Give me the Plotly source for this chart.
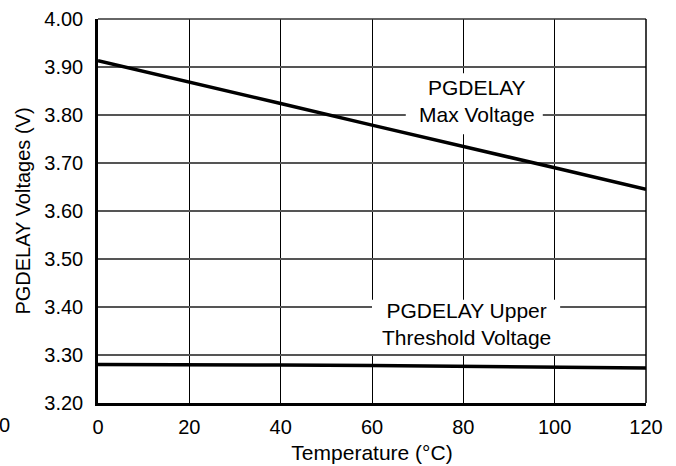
import plotly.graph_objects as go

temps = [0, 20, 40, 60, 80, 100, 120]
max_voltage = [3.913, 3.869, 3.824, 3.779, 3.735, 3.690, 3.645]
upper_threshold = [3.280, 3.280, 3.279, 3.278, 3.276, 3.274, 3.273]
x_ticks = [0, 20, 40, 60, 80, 100, 120]
y_ticks = [3.20, 3.30, 3.40, 3.50, 3.60, 3.70, 3.80, 3.90, 4.00]
y_tick_labels = ["3.20", "3.30", "3.40", "3.50", "3.60", "3.70", "3.80", "3.90", "4.00"]

FONT = "Liberation Sans, Arial, sans-serif"

fig = go.Figure()
fig.add_trace(go.Scatter(x=temps, y=max_voltage, mode="lines",
                         line=dict(color="black", width=3.5), showlegend=False))
fig.add_trace(go.Scatter(x=temps, y=upper_threshold, mode="lines",
                         line=dict(color="black", width=3.5), showlegend=False))

fig.update_layout(
    width=676, height=466,
    margin=dict(l=98, r=30, t=19, b=63, autoexpand=False),
    paper_bgcolor="white", plot_bgcolor="white",
    font=dict(family=FONT, color="black", size=20),
    xaxis=dict(range=[0, 120], tickvals=x_ticks, showgrid=True, gridcolor="black",
               gridwidth=1, showline=True, linecolor="black", linewidth=2.5,
               zeroline=False, ticks="", ticklabelstandoff=4, automargin=False,
               tickfont=dict(size=20),
               title=dict(text="Temperature (°C)", font=dict(size=21), standoff=9)),
    yaxis=dict(range=[3.20, 4.00], tickvals=y_ticks, ticktext=y_tick_labels,
               showgrid=True, gridcolor="#555555", gridwidth=1.5,
               showline=True, linecolor="black", linewidth=2.5,
               zeroline=False, ticks="", ticklabelstandoff=8, automargin=False,
               tickfont=dict(size=20),
               title=dict(text="PGDELAY Voltages (V)", font=dict(size=20), standoff=9)),
)

# top and right frame
fig.add_shape(type="line", xref="paper", yref="paper", x0=0, x1=1, y0=1, y1=1,
              line=dict(color="#333333", width=1.5), layer="above")
fig.add_shape(type="line", xref="paper", yref="paper", x0=1, x1=1, y0=0, y1=1,
              line=dict(color="black", width=1.5), layer="above")

# label backgrounds (cover grid, not traces)
fig.add_shape(type="rect", xref="x", yref="y", x0=67.4, x1=97.4, y0=3.76, y1=3.887,
              fillcolor="white", line=dict(width=0), layer="between")
fig.add_shape(type="rect", xref="x", yref="y", x0=60.0, x1=101.2, y0=3.302, y1=3.415,
              fillcolor="white", line=dict(width=0), layer="between")

fig.add_annotation(x=83.0, y=3.83, xref="x", yref="y", text="PGDELAY<br>Max Voltage",
                   showarrow=False, font=dict(size=21), align="center")
fig.add_annotation(x=80.8, y=3.364, xref="x", yref="y", text="PGDELAY Upper<br>Threshold Voltage",
                   showarrow=False, font=dict(size=21), align="center")

# stray tick label at far left
fig.add_annotation(x=-0.17, y=-0.057, xref="paper", yref="paper", text="0",
                   showarrow=False, font=dict(size=20), xanchor="center", yanchor="middle")

fig.write_html("out.html", config={"displayModeBar": False},
               post_script="document.body.style.margin='0';document.body.style.padding='0';document.body.style.overflow='hidden';")
